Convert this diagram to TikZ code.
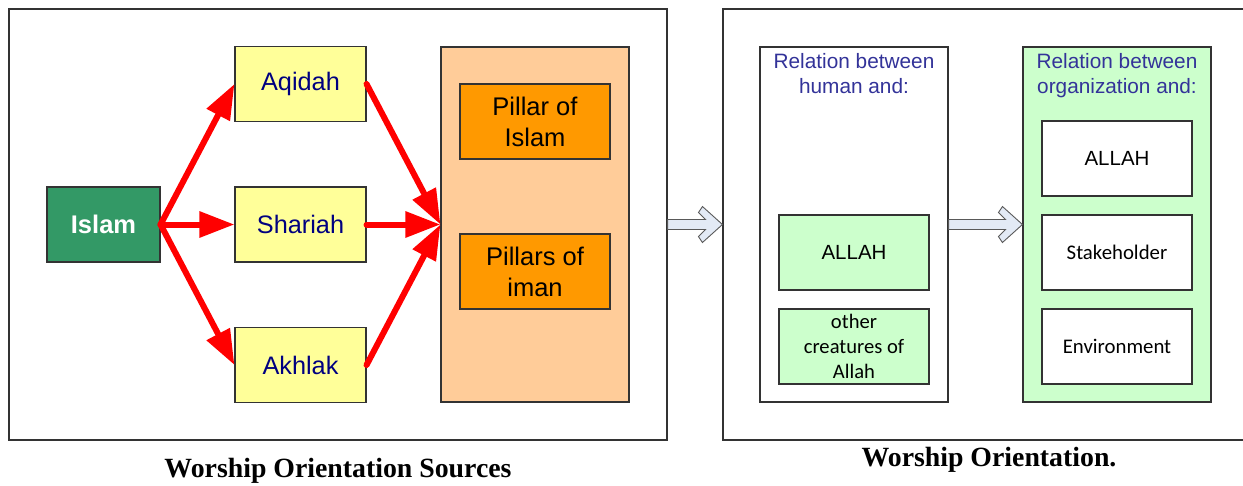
\documentclass[tikz,border=0pt]{standalone}
\usepackage{fontspec}
\usetikzlibrary{arrows.meta,calc}
\newfontfamily\arialf{Liberation Sans}
\newfontfamily\calibrif{Carlito}
\newfontfamily\seriff{Liberation Serif}
\definecolor{islamgreen}{HTML}{339966}
\definecolor{lightyellow}{HTML}{FFFF99}
\definecolor{lightorange}{HTML}{FFCC99}
\definecolor{deeporange}{HTML}{FF9900}
\definecolor{lightgreen}{HTML}{CCFFCC}
\definecolor{navytext}{HTML}{000080}
\definecolor{bluetext}{HTML}{333399}
\definecolor{arrowfill}{HTML}{E3EAF5}
\begin{document}
\begin{tikzpicture}[x=1pt,y=-1pt,
  box/.style={draw=black!80,line width=1.1pt,inner sep=0pt,align=center},
  frame/.style={box,fill=white},
  srcbox/.style={box,fill=lightyellow,minimum width=131pt,minimum height=75pt,
    text=navytext,font=\arialf\fontsize{25.3}{30}\selectfont},
  pillarbox/.style={box,fill=deeporange,minimum width=150pt,minimum height=75pt,
    font=\arialf\fontsize{25.5}{31}\selectfont},
  relbox/.style={box,minimum width=150pt,minimum height=75pt},
  titletext/.style={inner sep=0pt,align=center,text=bluetext,font=\arialf\fontsize{20.8}{25}\selectfont},
  redarrow/.style={draw=red,line width=6pt,line cap=round,-{Triangle[length=35pt,width=25pt]},fill=red},
  hollow/.style={draw=black!65,line width=0.9pt,fill=arrowfill,line join=miter},
  caption/.style={inner sep=0pt,font=\seriff\bfseries\fontsize{27.8}{30}\selectfont}
]
\useasboundingbox (0,0) rectangle (1243,485);
% frames
\node[frame,minimum width=658pt,minimum height=431pt] (lframe) at (338,224.5) {};
\node[frame,minimum width=534pt,minimum height=431pt] (rframe) at (990,224.5) {};
% left part
\node[box,fill=islamgreen,minimum width=113pt,minimum height=75pt,text=white,
  font=\arialf\bfseries\fontsize{25.5}{30}\selectfont] (islam) at (103.5,224.5) {Islam};
\node[srcbox] (aqidah) at (300.5,84) {Aqidah};
\node[srcbox] (shariah) at (300.5,224.5) {Shariah};
\node[srcbox] (akhlak) at (300.5,365) {Akhlak};
\node[box,fill=lightorange,minimum width=188pt,minimum height=355pt] (pillars) at (535,224.5) {};
\node[pillarbox] (pislam) at (535,121.5) {Pillar of\\Islam};
\node[pillarbox] (piman) at (535,271.5) {Pillars of\\iman};
\draw[redarrow] (islam.east) -- (aqidah.west);
\draw[redarrow] (islam.east) -- (shariah.west);
\draw[redarrow] (islam.east) -- (akhlak.west);
\draw[redarrow] (aqidah.east) -- (pillars.west);
\draw[redarrow] (shariah.east) -- (pillars.west);
\draw[redarrow] (akhlak.east) -- (pillars.west);
% right part
\node[box,fill=white,minimum width=188pt,minimum height=355pt] (human) at (854,224.5) {};
\node[titletext,anchor=north] (humantitle) at ($(human.north)+(0,7)$) {Relation between\\human and:};
\node[relbox,fill=lightgreen,font=\arialf\fontsize{20.5}{25}\selectfont] (hallah) at (854,252.5) {ALLAH};
\node[relbox,fill=lightgreen,font=\calibrif\fontsize{20.6}{25}\selectfont] (hother) at (854,346.5) {other\\creatures of\\Allah};
\node[box,fill=lightgreen,minimum width=188pt,minimum height=355pt] (org) at (1117,224.5) {};
\node[titletext,anchor=north] (orgtitle) at ($(org.north)+(0,7)$) {Relation between\\organization and:};
\node[relbox,fill=white,font=\arialf\fontsize{20.5}{25}\selectfont] (oallah) at (1117,158.5) {ALLAH};
\node[relbox,fill=white,font=\calibrif\fontsize{20.8}{25}\selectfont] (ostake) at (1117,252.5) {Stakeholder};
\node[relbox,fill=white,font=\calibrif\fontsize{20.8}{25}\selectfont] (oenv) at (1117,346.5) {Environment};
% hollow arrows
\path[hollow] let \p1=(lframe.east), \p2=(human.west) in
  (\x1,\y2+5pt) -- (\x2-54pt,\y2+5pt) -- (\x2-61pt,\y2+12pt) -- (\x2-57pt,\y2+18pt)
  -- (\x2-37pt,\y2) -- (\x2-57pt,\y2-18pt) -- (\x2-61pt,\y2-12pt) -- (\x2-54pt,\y2-5pt)
  -- (\x1,\y2-5pt) -- cycle;
\path[hollow] let \p1=(human.east), \p2=(org.west) in
  (\x1,\y2+5pt) -- (\x2-17pt,\y2+5pt) -- (\x2-24pt,\y2+12pt) -- (\x2-20pt,\y2+18pt)
  -- (\x2,\y2) -- (\x2-20pt,\y2-18pt) -- (\x2-24pt,\y2-12pt) -- (\x2-17pt,\y2-5pt)
  -- (\x1,\y2-5pt) -- cycle;
% captions
\node[caption] (cap1) at (338,471) {Worship Orientation Sources};
\node[caption] (cap2) at (989,460) {Worship Orientation.};
\end{tikzpicture}
\end{document}
